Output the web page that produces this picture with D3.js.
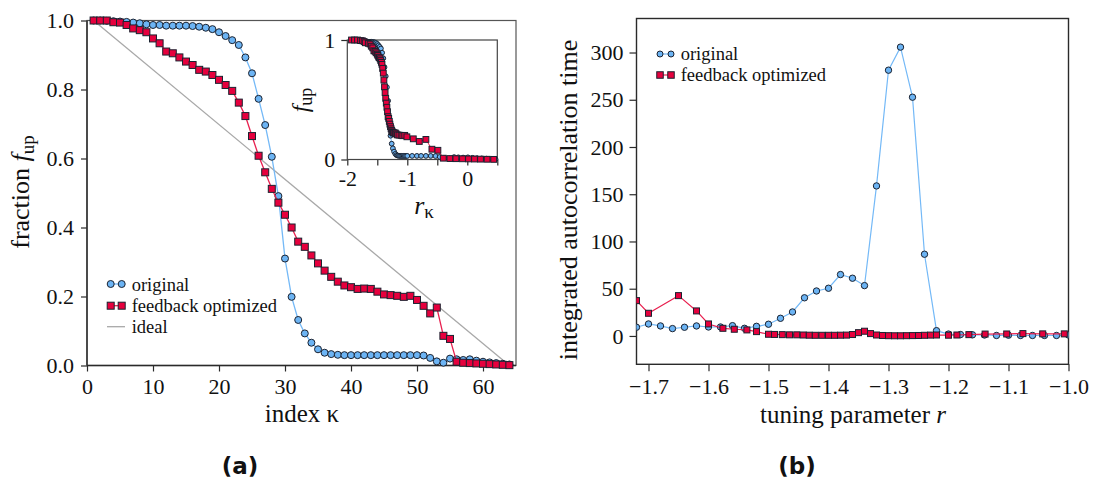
<!DOCTYPE html>
<html><head><meta charset="utf-8">
<script src="https://cdn.jsdelivr.net/npm/d3@7/dist/d3.min.js"></script>
<style>
body{margin:0;background:#fff}
svg{display:block}
text{fill:#111}
</style></head>
<body><svg id="c" width="1093" height="482"></svg>
<script>
// ---------------- data ----------------
const kappa = [1,2,3,4,5,6,7,8,9,10,11,12,13,14,15,16,17,18,19,20,21,22,23,24,25,26,27,28,29,30,31,32,
  33,34,35,36,37,38,39,40,41,42,43,44,45,46,47,48,49,50,51,52,53,54,55,56,57,58,59,60,61,62,63,64];
const fOriginal = [1.000,1.000,0.999,0.998,0.997,0.996,0.994,0.992,0.989,0.987,0.987,0.985,0.985,0.985,0.985,0.984,
  0.982,0.979,0.975,0.966,0.955,0.943,0.929,0.893,0.847,0.773,0.697,0.605,0.491,0.310,0.199,0.132,
  0.093,0.066,0.047,0.037,0.033,0.031,0.030,0.030,0.030,0.030,0.030,0.030,0.030,0.030,0.030,0.030,
  0.030,0.030,0.029,0.022,0.012,0.008,0.020,0.018,0.016,0.018,0.014,0.011,0.009,0.007,0.005,0.003];
const fFeedback = [1.000,1.000,1.000,0.995,0.994,0.987,0.977,0.972,0.966,0.948,0.934,0.910,0.905,0.893,0.881,0.871,
  0.857,0.852,0.842,0.828,0.813,0.796,0.762,0.723,0.665,0.608,0.560,0.512,0.472,0.437,0.400,0.359,
  0.344,0.319,0.296,0.275,0.257,0.243,0.232,0.227,0.222,0.223,0.222,0.214,0.206,0.204,0.202,0.199,
  0.202,0.190,0.173,0.151,0.168,0.086,0.077,0.011,0.008,0.007,0.006,0.005,0.004,0.003,0.002,0.001];
const idealLine = [[1,1],[64,0]];
const rOriginal = [-1.88,-1.86,-1.84,-1.82,-1.80,-1.78,-1.76,-1.74,
  -1.72,-1.70,-1.68,-1.66,-1.64,-1.62,-1.60,-1.58,-1.56,-1.54,-1.52,-1.50,-1.48,-1.46,-1.44,-1.42,
  -1.40,-1.38,-1.36,-1.34,-1.32,-1.30,-1.28,-1.26,-1.24,-1.22,-1.20,-1.18,-1.16,-1.14,-1.12,-1.10,
  -1.08,-1.06,-1.04,-1.02,-1.00,
  -0.92,-0.84,-0.77,-0.69,-0.61,-0.53,-0.46,-0.38,-0.30,-0.22,-0.15,-0.07,0.01,0.09,0.16,0.24,0.32,0.40,0.47];
const rFeedback = [-1.93,-1.88,-1.83,-1.78,-1.75,-1.72,-1.70,-1.65,-1.62,-1.60,-1.576,-1.557,-1.536,-1.52,-1.50,
  -1.49,-1.477,-1.465,-1.453,-1.442,-1.432,-1.422,-1.411,-1.40,-1.39,-1.38,-1.37,-1.36,-1.35,-1.34,
  -1.33,-1.32,-1.31,-1.30,-1.29,-1.28,-1.27,-1.26,-1.25,-1.24,-1.23,-1.22,-1.20,-1.186,-1.166,-1.139,
  -1.103,-1.076,-1.043,-1.007,-0.90,-0.80,-0.69,-0.59,-0.49,-0.40,-0.29,-0.19,-0.08,0.02,0.12,0.22,0.33,0.44];
const tauOriginal = [null,null,null,null,null,null,null,null,
  9.2,12.7,10.6,7.8,9.2,10.6,9.5,9.5,10.9,8.1,10.2,12.4,18.7,25.4,40.4,47.6,
  50.5,65.0,61.1,53.3,158.8,281.3,305.7,252.7,86.5,5.6,2.0,1.5,1.2,1.0,0.5,0.8,
  0.5,0.5,0.5,0.5,1.0,
  null,null,null,null,null,null,null,null,null,null,null,null,null,null,null,null,null,null,null];
const tauFeedback = [null,null,null,null,null,37.4,24.0,42.7,26.5,12.7,8.1,7.1,6.4,4.6,1.8,
  1.6,1.4,1.2,1.2,1.0,0.8,0.7,0.7,0.7,0.7,0.8,0.9,1.5,3.5,5.0,
  2.5,1.0,0.5,0.3,0.2,0.2,0.3,0.4,0.5,0.7,0.9,1.0,0.8,1.0,1.4,2.0,
  2.1,2.5,2.2,2.2,null,null,null,null,null,null,null,null,null,null,null,null,null,null];
const ticksA_x = [0,10,20,30,40,50,60];
const ticksA_y = [0,0.2,0.4,0.6,0.8,1.0];
const ticksI_x = [-2,-1.5,-1,-0.5,0,0.5];
const ticksI_y = [0,1];
const ticksB_x = [-1.7,-1.6,-1.5,-1.4,-1.3,-1.2,-1.1,-1.0];
const ticksB_y = [0,50,100,150,200,250,300];
const seriesNames = ["original","feedback optimized","ideal"];

// ---------------- styles ----------------
const SERIF = '"Liberation Serif","Times New Roman",serif';
const SANS = '"DejaVu Sans",sans-serif';
const BLUE_FILL="#6cb4f4", BLUE_LINE="#74b9f7", RED_FILL="#e6003d", RED_LINE="#e8204f", EDGE="#1b2230";
const svg = d3.select("#c");
const AX="#2a2a2a";

function txt(sel, fs){ return sel.style("font-family",SERIF).style("font-size",fs+"px"); }
function styleAxis(g, fs){
  g.attr("font-family",null).attr("font-size",null);
  g.selectAll("path.domain").remove();
  g.selectAll(".tick line").attr("stroke",AX).attr("stroke-width",1.2);
  txt(g.selectAll(".tick text"),fs).attr("fill","#111");
}
function frame(x0,x1,y0,y1,col,w){
  svg.append("rect").attr("x",x0).attr("y",y1).attr("width",x1-x0).attr("height",y0-y1)
    .attr("fill","none").attr("stroke",col).attr("stroke-width",w);
}
function circles(g,data,x,y,r){
  g.selectAll(null).data(data).join("circle").attr("cx",d=>x(d[0])).attr("cy",d=>y(d[1])).attr("r",r)
   .attr("fill",BLUE_FILL).attr("stroke",EDGE).attr("stroke-width",1);
}
function squares(g,data,x,y,s){
  g.selectAll(null).data(data).join("rect").attr("x",d=>x(d[0])-s/2).attr("y",d=>y(d[1])-s/2)
   .attr("width",s).attr("height",s).attr("fill",RED_FILL).attr("stroke",EDGE).attr("stroke-width",1);
}

// ================= panel (a) =================
const xA = d3.scaleLinear([0,65],[87,516]);
const yA = d3.scaleLinear([0,1],[365.5,20.5]);
svg.append("g").attr("transform","translate(0,365.5)")
  .call(d3.axisBottom(xA).tickValues(ticksA_x).tickSize(6).tickPadding(7).tickFormat(d3.format("d")))
  .call(g=>styleAxis(g,22));
svg.append("g").attr("transform","translate(87,0)")
  .call(d3.axisLeft(yA).tickValues(ticksA_y).tickSize(6).tickPadding(7).tickFormat(d3.format(".1f")))
  .call(g=>styleAxis(g,22));
frame(87,516,365.5,20.5,"#555",1.2);
svg.append("line").attr("x1",87).attr("x2",87).attr("y1",20.5).attr("y2",365.5).attr("stroke",AX).attr("stroke-width",1.4);
svg.append("line").attr("x1",87).attr("x2",516).attr("y1",365.5).attr("y2",365.5).attr("stroke",AX).attr("stroke-width",1.4);

const gA = svg.append("g");
gA.append("path").attr("d",d3.line().x(d=>xA(d[0])).y(d=>yA(d[1]))(idealLine))
  .attr("stroke","#a8a8a8").attr("stroke-width",1.3).attr("fill","none");
const blueA = kappa.map((k,i)=>[k,fOriginal[i]]);
const redA = kappa.map((k,i)=>[k,fFeedback[i]]);
gA.append("path").attr("d",d3.line().x(d=>xA(d[0])).y(d=>yA(d[1]))(blueA))
  .attr("stroke",BLUE_LINE).attr("stroke-width",1.3).attr("fill","none");
circles(gA,blueA,xA,yA,3.5);
gA.append("path").attr("d",d3.line().x(d=>xA(d[0])).y(d=>yA(d[1]))(redA))
  .attr("stroke",RED_LINE).attr("stroke-width",1.3).attr("fill","none");
squares(gA,redA,xA,yA,7);

// axis titles (a)
const tyA = txt(svg.append("text"),26).attr("transform","translate(29,192) rotate(-90)").attr("text-anchor","middle");
tyA.append("tspan").text("fraction  ");
tyA.append("tspan").attr("font-style","italic").text("f");
tyA.append("tspan").style("font-size","19px").attr("dy",5).text("up");
txt(svg.append("text"),25).attr("x",302).attr("y",422).attr("text-anchor","middle").text("index  κ");
svg.append("text").attr("x",240).attr("y",474).attr("text-anchor","middle")
  .style("font-family",SANS).style("font-weight","bold").style("font-size","23px").text("(a)");

// legend (a)
const lgA = svg.append("g");
lgA.append("line").attr("x1",110.7).attr("x2",121.7).attr("y1",284).attr("y2",284).attr("stroke",BLUE_LINE).attr("stroke-width",1.3);
circles(lgA,[[0,0],[1,0]],d=>110.7+11*d,()=>284,3.5);
lgA.append("line").attr("x1",110.7).attr("x2",121.7).attr("y1",305.7).attr("y2",305.7).attr("stroke",RED_LINE).attr("stroke-width",1.3);
squares(lgA,[[0,0],[1,0]],d=>110.7+11*d,()=>305.7,7);
lgA.append("line").attr("x1",107).attr("x2",125).attr("y1",326.7).attr("y2",326.7).attr("stroke","#a8a8a8").attr("stroke-width",1.3);
[284,305.7,326.7].forEach((y,i)=>txt(lgA.append("text"),18.5).attr("x",131.7).attr("y",y+6.5).text(seriesNames[i]));

// ================= inset =================
const xI = d3.scaleLinear([-2,0.5],[347.3,497.3]);
const yI = d3.scaleLinear([0,1],[159.5,40]);
svg.append("rect").attr("x",347.3).attr("y",40).attr("width",150).attr("height",119.5).attr("fill","#fff");
svg.append("g").attr("transform","translate(0,159.5)")
  .call(d3.axisBottom(xI).tickValues(ticksI_x).tickSize(6).tickPadding(5)
    .tickFormat(d=>Number.isInteger(d)?(d<0?"-"+Math.abs(d):String(d)):""))
  .call(g=>styleAxis(g,22));
svg.append("g").attr("transform","translate(347.3,0)")
  .call(d3.axisLeft(yI).tickValues(ticksI_y).tickSize(6).tickPadding(6).tickFormat(d3.format("d")))
  .call(g=>styleAxis(g,22));
frame(347.3,497.3,159.5,40,"#444",1.2);
const gI = svg.append("g");
const blueI = kappa.map((k,i)=>[rOriginal[i],fOriginal[i]]);
const redI = kappa.map((k,i)=>[rFeedback[i],fFeedback[i]]);
gI.append("path").attr("d",d3.line().x(d=>xI(d[0])).y(d=>yI(d[1]))(blueI)).attr("stroke",BLUE_LINE).attr("fill","none");
circles(gI,blueI,xI,yI,2.4);
gI.append("path").attr("d",d3.line().x(d=>xI(d[0])).y(d=>yI(d[1]))(redI)).attr("stroke",RED_LINE).attr("fill","none");
squares(gI,redI,xI,yI,5.8);
const tyI = txt(svg.append("text"),24).attr("transform","translate(308,100) rotate(-90)").attr("text-anchor","middle");
tyI.append("tspan").attr("font-style","italic").text("f");
tyI.append("tspan").style("font-size","18px").attr("dy",4).text("up");
const txI = txt(svg.append("text"),26).attr("x",424).attr("y",214).attr("text-anchor","middle");
txI.append("tspan").attr("font-style","italic").text("r");
txI.append("tspan").style("font-size","19px").attr("dy",4).text("κ");

// ================= panel (b) =================
const xB = d3.scaleLinear([-1.72,-1.0],[636.5,1068.5]);
const yB = d3.scaleLinear([-30,336],[364.3,18.5]);
svg.append("g").attr("transform","translate(0,364.3)")
  .call(d3.axisBottom(xB).tickValues(ticksB_x).tickSize(7).tickPadding(7).tickFormat(d3.format(".1f")))
  .call(g=>styleAxis(g,22));
svg.append("g").attr("transform","translate(636.5,0)")
  .call(d3.axisLeft(yB).tickValues(ticksB_y).tickSize(7).tickPadding(6).tickFormat(d3.format("d")))
  .call(g=>styleAxis(g,22));
frame(636.5,1068.5,364.3,18.5,AX,1.4);
svg.append("defs").append("clipPath").attr("id","clipB").append("rect")
  .attr("x",636.5).attr("y",18.5).attr("width",432).attr("height",345.8);
const gB = svg.append("g").attr("clip-path","url(#clipB)");
const blueB = kappa.map((k,i)=>[rOriginal[i],tauOriginal[i]]).filter(d=>d[1]!=null);
const redB = kappa.map((k,i)=>[rFeedback[i],tauFeedback[i]]).filter(d=>d[1]!=null);
gB.append("path").attr("d",d3.line().x(d=>xB(d[0])).y(d=>yB(d[1]))(blueB)).attr("stroke",BLUE_LINE).attr("stroke-width",1.2).attr("fill","none");
circles(gB,blueB,xB,yB,3.2);
gB.append("path").attr("d",d3.line().x(d=>xB(d[0])).y(d=>yB(d[1]))(redB)).attr("stroke",RED_LINE).attr("stroke-width",1.2).attr("fill","none");
squares(gB,redB,xB,yB,6);

txt(svg.append("text"),26).attr("transform","translate(577,200) rotate(-90)").attr("text-anchor","middle")
  .text("integrated autocorrelation time");
const txB = txt(svg.append("text"),25).attr("x",853).attr("y",423).attr("text-anchor","middle");
txB.append("tspan").text("tuning parameter  ");
txB.append("tspan").attr("font-style","italic").text("r");
svg.append("text").attr("x",797).attr("y",474).attr("text-anchor","middle")
  .style("font-family",SANS).style("font-weight","bold").style("font-size","23px").text("(b)");

// legend (b)
const lgB = svg.append("g");
lgB.append("line").attr("x1",660).attr("x2",671).attr("y1",54).attr("y2",54).attr("stroke",BLUE_LINE).attr("stroke-width",1.2);
circles(lgB,[[0,0],[1,0]],d=>660+11*d,()=>54,3);
lgB.append("line").attr("x1",660).attr("x2",671).attr("y1",75).attr("y2",75).attr("stroke",RED_LINE).attr("stroke-width",1.2);
squares(lgB,[[0,0],[1,0]],d=>660+11*d,()=>75,6.5);
[54,75].forEach((y,i)=>txt(lgB.append("text"),18.5).attr("x",680.7).attr("y",y+6).text(seriesNames[i]));
</script></body></html>
